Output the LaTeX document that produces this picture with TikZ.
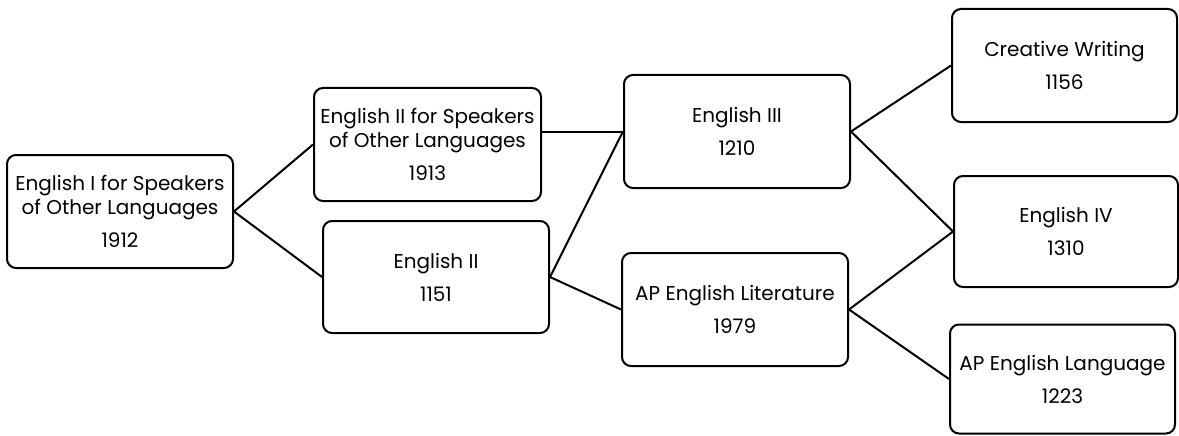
\documentclass[tikz,border=0pt]{standalone}
\usepackage{fontspec}
\setmainfont{Poppins}
\begin{document}
\begin{tikzpicture}[x=1pt,y=-1pt,
  box/.style={draw=black,line width=2pt,rounded corners=9pt,minimum width=226pt,minimum height=113pt,align=center,inner sep=0pt,font=\fontsize{20}{24}\selectfont},
  conn/.style={draw=black,line width=2pt}]
\useasboundingbox (0,0) rectangle (1179,436);
\node[box] (A) at (120,211.5) {English I for Speakers\\of Other Languages\\[9pt]1912};
\node[box,minimum width=227pt] (B) at (427.5,144.5) {English II for Speakers\\of Other Languages\\[9pt]1913};
\node[box,minimum height=112pt] (C) at (436,277) {English II\\[9pt]1151};
\node[box] (D) at (737,131.5) {English III\\[9pt]1210};
\node[box] (E) at (735,309.5) {AP English Literature\\[9pt]1979};
\node[box,minimum width=225pt] (F) at (1064.5,65.5) {Creative Writing\\[9pt]1156};
\node[box,minimum width=224pt,minimum height=111pt] (G) at (1066,231.5) {English IV\\[9pt]1310};
\node[box,minimum width=225pt,minimum height=109pt] (H) at (1062.5,379) {AP English Language\\[9pt]1223};
\draw[conn] (A.east) -- (B.west);
\draw[conn] (A.east) -- (C.west);
\draw[conn] (D.west -| B.east) -- (D.west);
\draw[conn] (C.east) -- (D.west);
\draw[conn] (C.east) -- (E.west);
\draw[conn] (D.east) -- (F.west);
\draw[conn] (D.east) -- (G.west);
\draw[conn] (E.east) -- (G.west);
\draw[conn] (E.east) -- (H.west);
\end{tikzpicture}
\end{document}
